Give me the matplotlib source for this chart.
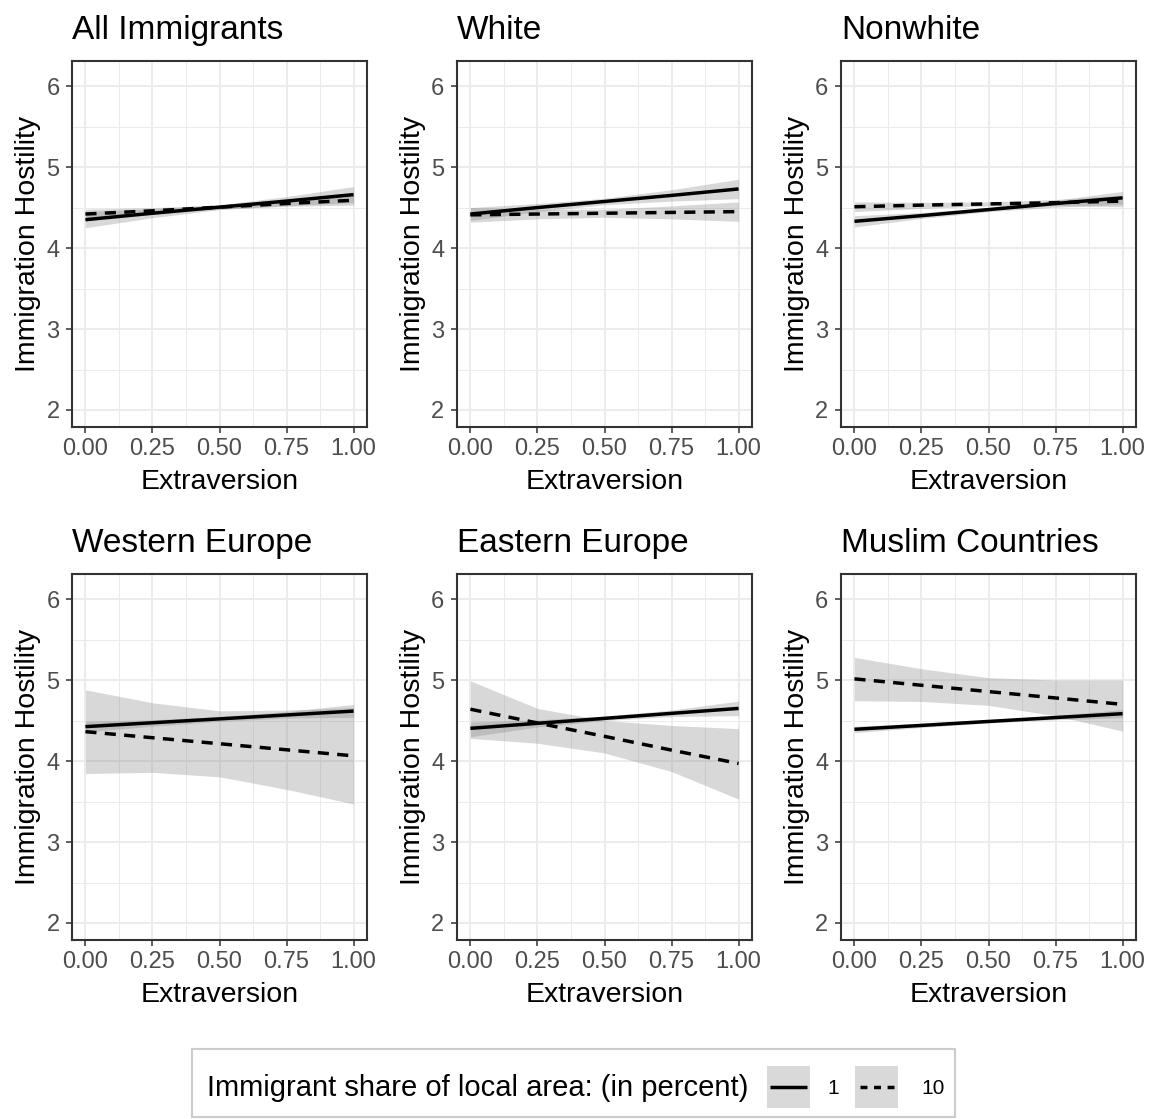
import matplotlib
matplotlib.use("Agg")
import matplotlib.pyplot as plt
from matplotlib.patches import Rectangle
from matplotlib.ticker import MultipleLocator

plt.rcParams["font.family"] = ["Liberation Sans", "DejaVu Sans"]

panels = ["All Immigrants", "White", "Nonwhite",
          "Western Europe", "Eastern Europe", "Muslim Countries"]
extraversion = [0.0, 0.25, 0.5, 0.75, 1.0]
x_ticks = [0.0, 0.25, 0.5, 0.75, 1.0]
x_labels = ["0.00", "0.25", "0.50", "0.75", "1.00"]
y_ticks = [2, 3, 4, 5, 6]

# predicted hostility, immigrant share 1 percent (fit and 95% band)
fit_1 = [
    [4.35, 4.43, 4.505, 4.58, 4.66],
    [4.42, 4.50, 4.575, 4.65, 4.73],
    [4.33, 4.40, 4.475, 4.55, 4.62],
    [4.425, 4.473, 4.521, 4.569, 4.617],
    [4.404, 4.466, 4.527, 4.589, 4.65],
    [4.392, 4.44, 4.489, 4.537, 4.585],
]
lo_1 = [
    [4.25, 4.375, 4.475, 4.525, 4.56],
    [4.34, 4.45, 4.535, 4.58, 4.61],
    [4.26, 4.365, 4.45, 4.505, 4.54],
    [4.36, 4.43, 4.49, 4.53, 4.54],
    [4.30, 4.42, 4.50, 4.55, 4.56],
    [4.35, 4.415, 4.47, 4.51, 4.535],
]
hi_1 = [
    [4.45, 4.485, 4.535, 4.635, 4.76],
    [4.50, 4.55, 4.615, 4.72, 4.85],
    [4.40, 4.44, 4.50, 4.59, 4.70],
    [4.49, 4.51, 4.55, 4.61, 4.70],
    [4.48, 4.51, 4.555, 4.63, 4.74],
    [4.43, 4.465, 4.51, 4.565, 4.635],
]

# predicted hostility, immigrant share 10 percent
fit_10 = [
    [4.42, 4.46, 4.505, 4.55, 4.59],
    [4.41, 4.42, 4.43, 4.44, 4.45],
    [4.51, 4.53, 4.545, 4.56, 4.58],
    [4.363, 4.288, 4.214, 4.139, 4.064],
    [4.64, 4.47, 4.305, 4.135, 3.97],
    [5.015, 4.936, 4.858, 4.779, 4.70],
]
lo_10 = [
    [4.36, 4.42, 4.48, 4.515, 4.53],
    [4.32, 4.36, 4.38, 4.36, 4.33],
    [4.45, 4.49, 4.52, 4.525, 4.51],
    [3.846, 3.86, 3.805, 3.65, 3.47],
    [4.28, 4.22, 4.10, 3.87, 3.53],
    [4.745, 4.736, 4.688, 4.559, 4.37],
]
hi_10 = [
    [4.48, 4.50, 4.53, 4.585, 4.65],
    [4.50, 4.48, 4.48, 4.52, 4.57],
    [4.57, 4.565, 4.57, 4.60, 4.65],
    [4.88, 4.72, 4.62, 4.63, 4.66],
    [4.99, 4.65, 4.50, 4.44, 4.40],
    [5.28, 5.14, 5.03, 5.00, 5.00],
]

W, H = 1149, 1119
fig = plt.figure(figsize=(W / 100, H / 100), dpi=100)

lefts = [72, 457, 841]
tops = [61, 574]
pw, ph = 295, 366

band = "#808080"
dash = (0, (3.2, 2.4))

for i, name in enumerate(panels):
    l = lefts[i % 3]
    t = tops[i // 3]
    ax = fig.add_axes([l / W, 1 - (t + ph) / H, pw / W, ph / H])

    ax.fill_between(extraversion, lo_1[i], hi_1[i], color=band, alpha=0.3, lw=0, zorder=2)
    ax.fill_between(extraversion, lo_10[i], hi_10[i], color=band, alpha=0.3, lw=0, zorder=2)
    ax.plot(extraversion, fit_1[i], color="black", lw=2.5, solid_capstyle="butt", zorder=3)
    ax.plot(extraversion, fit_10[i], color="black", lw=2.5, linestyle=dash, zorder=3)

    ax.set_xlim(-0.05, 1.05)
    ax.set_ylim(1.79, 6.31)
    ax.set_xticks(x_ticks)
    ax.set_xticklabels(x_labels)
    ax.set_yticks(y_ticks)
    ax.xaxis.set_minor_locator(MultipleLocator(0.125))
    ax.yaxis.set_minor_locator(MultipleLocator(0.5))
    ax.tick_params(which="major", length=4.5, width=1.1, color="#333333",
                   labelsize=17, labelcolor="#4D4D4D")
    ax.tick_params(axis="x", pad=3.5)
    ax.tick_params(axis="y", pad=4.5)
    ax.tick_params(which="minor", length=0)
    ax.grid(which="major", color="#EBEBEB", lw=1.3)
    ax.grid(which="minor", color="#EBEBEB", lw=0.7)
    ax.set_axisbelow(True)
    for sp in ax.spines.values():
        sp.set_color("#333333")
        sp.set_linewidth(1.5)

    ax.set_title(name, loc="left", fontsize=24, pad=16)
    ax.set_xlabel("Extraversion", fontsize=20.5)
    ax.set_ylabel("Immigration Hostility", fontsize=20.5)
    ax.xaxis.set_label_coords(0.5, -0.115)
    ax.yaxis.set_label_coords(-0.105, 0.5)

# legend drawn in pixel space along the bottom
lax = fig.add_axes([0, 0, 1, 1])
lax.set_xlim(0, W)
lax.set_ylim(H, 0)
lax.axis("off")
lax.add_patch(Rectangle((192, 1049), 763, 68, facecolor="white",
                        edgecolor="#CCCCCC", lw=1.5))
lax.text(207, 1088, "Immigrant share of local area: (in percent)",
         fontsize=21, va="center", ha="left")
lax.add_patch(Rectangle((767, 1066), 43, 42, facecolor="#D9D9D9", lw=0))
lax.plot([770, 807], [1087, 1087], color="black", lw=2.5, solid_capstyle="butt")
lax.text(833, 1088, "1", fontsize=15, va="center", ha="center")
lax.add_patch(Rectangle((855, 1066), 43, 42, facecolor="#D9D9D9", lw=0))
lax.plot([860, 894], [1087, 1087], color="black", lw=2.5, linestyle=(0, (2.0, 1.9)))
lax.text(933, 1088, "10", fontsize=15, va="center", ha="center")

fig.savefig("out.png", dpi=100)
